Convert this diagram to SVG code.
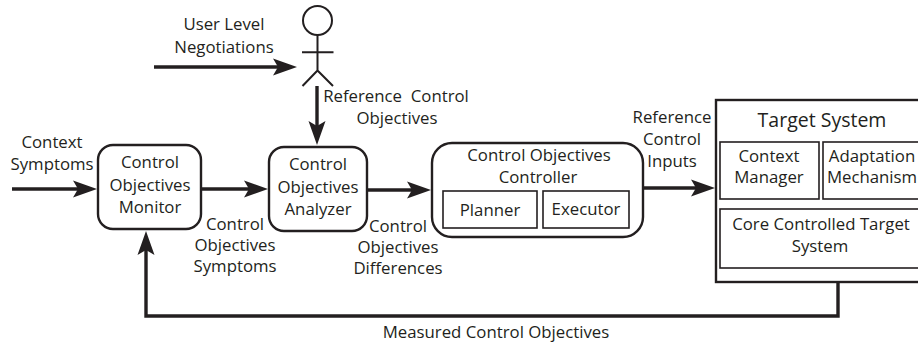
<svg xmlns="http://www.w3.org/2000/svg" width="918" height="345" viewBox="0 0 918 345">
<style>
.t{font-family:"Open Sans","Liberation Sans",sans-serif;font-size:16.8px;fill:#231f20;text-anchor:middle}
.big{font-size:19.5px}
.box{fill:#fff;stroke:#231f20;stroke-width:2.4}
.in{fill:#fff;stroke:#231f20;stroke-width:1.6}
.ar{fill:none;stroke:#231f20;stroke-width:3.4;marker-end:url(#ah)}
.act{fill:#fff;stroke:#231f20;stroke-width:2}
</style>
<defs>
<marker id="ah" markerUnits="userSpaceOnUse" markerWidth="26" markerHeight="20" viewBox="0 -10 26 20" refX="5" refY="0" orient="auto">
<path d="M0,-8.5 L24,0 L0,8.5 L5,0 Z" fill="#231f20"/>
</marker>
</defs>
<rect width="918" height="345" fill="#fff"/>
<g id="connectors">
<line class="ar" x1="154" y1="67" x2="278" y2="67"/>
<line class="ar" x1="317" y1="86" x2="317" y2="126"/>
<line class="ar" x1="12" y1="189" x2="78" y2="189"/>
<line class="ar" x1="202" y1="189" x2="249" y2="189"/>
<line class="ar" x1="367" y1="190" x2="412" y2="190"/>
<line class="ar" x1="643" y1="188" x2="696" y2="188"/>
<path class="ar" d="M838,282 V316 H146 V250"/>
</g>
<g id="labels">
<text class="t" x="224" y="30">User Level</text>
<text class="t" x="224" y="53">Negotiations</text>
<text class="t" x="396" y="102" xml:space="preserve">Reference  Control</text>
<text class="t" x="397" y="124">Objectives</text>
<text class="t" x="52" y="148">Context</text>
<text class="t" x="52" y="170">Symptoms</text>
<text class="t" x="235" y="230">Control</text>
<text class="t" x="235" y="251">Objectives</text>
<text class="t" x="235" y="272">Symptoms</text>
<text class="t" x="398" y="232">Control</text>
<text class="t" x="398" y="253">Objectives</text>
<text class="t" x="398" y="274">Differences</text>
<text class="t" x="672" y="123">Reference</text>
<text class="t" x="672" y="145">Control</text>
<text class="t" x="672" y="167">Inputs</text>
<text class="t" x="496" y="338">Measured Control Objectives</text>
</g>
<g id="actor">
<circle class="act" cx="317.5" cy="20.5" r="14.5"/>
<path class="act" d="M317.5,35 V70.5 M302,52.3 H333.5 M302.5,86 L317.5,70.5 L333,86"/>
</g>
<g id="monitor">
<rect class="box" x="98" y="145" width="103" height="84" rx="15"/>
<text class="t" x="150" y="168">Control</text>
<text class="t" x="150" y="191">Objectives</text>
<text class="t" x="150" y="213">Monitor</text>
</g>
<g id="analyzer">
<rect class="box" x="269" y="147" width="98" height="84" rx="15"/>
<text class="t" x="318" y="170">Control</text>
<text class="t" x="318" y="193">Objectives</text>
<text class="t" x="318" y="215">Analyzer</text>
</g>
<g id="controller">
<rect class="box" x="432" y="143" width="211" height="94" rx="20"/>
<text class="t" x="539" y="161">Control Objectives</text>
<text class="t" x="538" y="183">Controller</text>
<g id="planner">
<rect class="in" x="443" y="191" width="94" height="37"/>
<text class="t" x="490" y="216">Planner</text>
</g>
<g id="executor">
<rect class="in" x="543" y="191" width="86" height="37"/>
<text class="t" x="586" y="215">Executor</text>
</g>
</g>
<g id="target">
<rect class="box" x="716" y="100" width="230" height="182"/>
<text class="t big" x="822" y="127">Target System</text>
<g id="context-manager">
<rect class="in" x="720" y="142" width="99" height="57"/>
<text class="t" x="769" y="162">Context</text>
<text class="t" x="769" y="183">Manager</text>
</g>
<g id="adaptation">
<rect class="in" x="823" y="142" width="110" height="57"/>
<text class="t" x="872" y="162">Adaptation</text>
<text class="t" x="872" y="183">Mechanism</text>
</g>
<g id="core">
<rect class="in" x="720" y="209" width="213" height="59"/>
<text class="t" x="821" y="230">Core Controlled Target</text>
<text class="t" x="820" y="252">System</text>
</g>
</g>
</svg>
